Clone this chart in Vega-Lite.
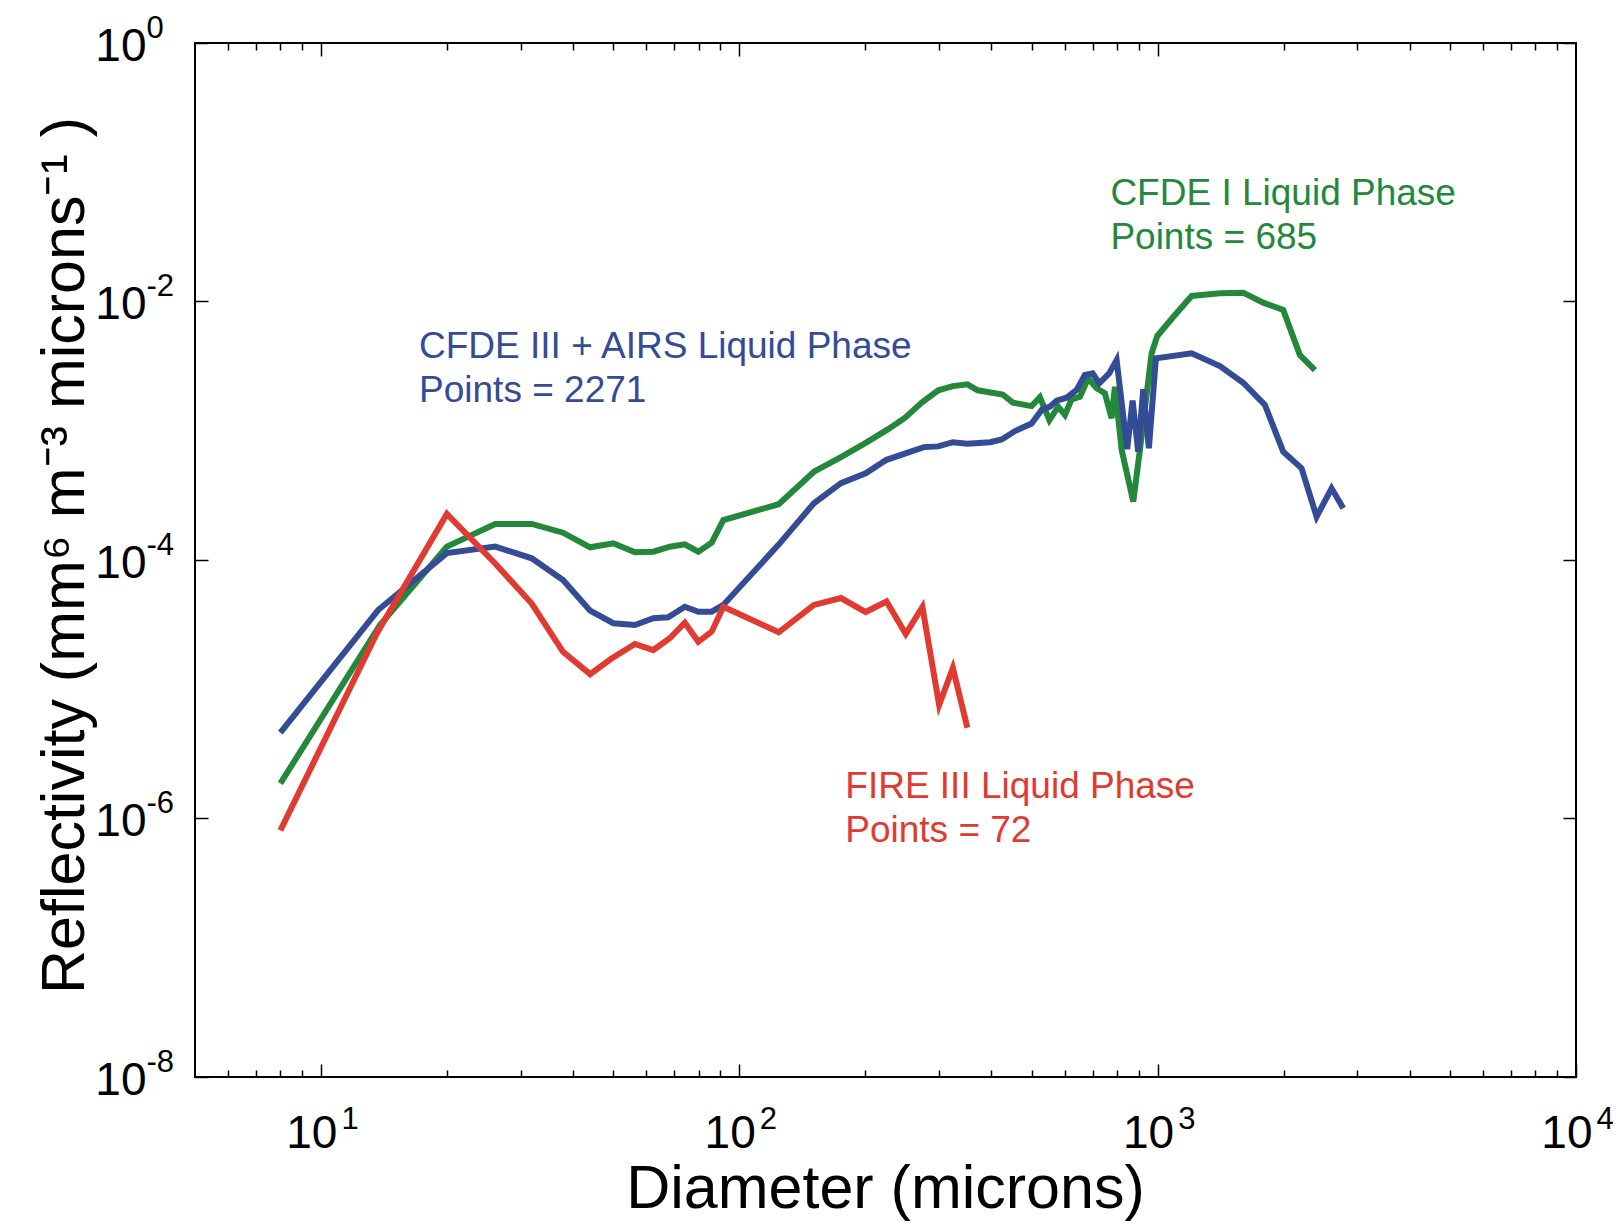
{
  "$schema": "https://vega.github.io/schema/vega-lite/v6.json",
  "width": 1381,
  "height": 1034,
  "autosize": {"type": "none"},
  "padding": {"left": 195, "top": 43, "right": 42, "bottom": 144},
  "background": "white",
  "config": {
    "view": {"stroke": "black", "strokeWidth": 2},
    "font": "Liberation Sans",
    "axis": {"domain": false, "grid": false, "tickColor": "black", "tickWidth": 1.5, "labelColor": "black", "titleColor": "black", "labelFont": "Liberation Sans", "titleFont": "Liberation Sans", "titleFontWeight": "normal", "labelFlush": false, "labelOverlap": false, "labelBound": false}
  },
  "datasets": {
    "curves": [
      {"s": "CFDE I", "d": 8.0, "z": 1.87e-6},
      {"s": "CFDE I", "d": 13.84, "z": 3.14e-5},
      {"s": "CFDE I", "d": 20.0, "z": 1.27e-4},
      {"s": "CFDE I", "d": 26.1, "z": 1.90e-4},
      {"s": "CFDE I", "d": 31.9, "z": 1.90e-4},
      {"s": "CFDE I", "d": 37.9, "z": 1.626e-4},
      {"s": "CFDE I", "d": 44.0, "z": 1.254e-4},
      {"s": "CFDE I", "d": 50.0, "z": 1.346e-4},
      {"s": "CFDE I", "d": 56.3, "z": 1.147e-4},
      {"s": "CFDE I", "d": 62.3, "z": 1.159e-4},
      {"s": "CFDE I", "d": 68.2, "z": 1.268e-4},
      {"s": "CFDE I", "d": 74.1, "z": 1.323e-4},
      {"s": "CFDE I", "d": 79.8, "z": 1.159e-4},
      {"s": "CFDE I", "d": 85.9, "z": 1.361e-4},
      {"s": "CFDE I", "d": 91.6, "z": 2.039e-4},
      {"s": "CFDE I", "d": 124.2, "z": 2.70e-4},
      {"s": "CFDE I", "d": 150.8, "z": 4.82e-4},
      {"s": "CFDE I", "d": 175.0, "z": 6.26e-4},
      {"s": "CFDE I", "d": 200.5, "z": 8.05e-4},
      {"s": "CFDE I", "d": 227.4, "z": 1.033e-3},
      {"s": "CFDE I", "d": 249.1, "z": 1.262e-3},
      {"s": "CFDE I", "d": 273.0, "z": 1.651e-3},
      {"s": "CFDE I", "d": 299.0, "z": 2.056e-3},
      {"s": "CFDE I", "d": 324.0, "z": 2.215e-3},
      {"s": "CFDE I", "d": 350.9, "z": 2.288e-3},
      {"s": "CFDE I", "d": 371.5, "z": 2.056e-3},
      {"s": "CFDE I", "d": 426.1, "z": 1.908e-3},
      {"s": "CFDE I", "d": 450.8, "z": 1.651e-3},
      {"s": "CFDE I", "d": 499.7, "z": 1.551e-3},
      {"s": "CFDE I", "d": 523.1, "z": 1.815e-3},
      {"s": "CFDE I", "d": 551.2, "z": 1.209e-3},
      {"s": "CFDE I", "d": 578.5, "z": 1.535e-3},
      {"s": "CFDE I", "d": 600.3, "z": 1.323e-3},
      {"s": "CFDE I", "d": 622.7, "z": 1.751e-3},
      {"s": "CFDE I", "d": 652.0, "z": 1.834e-3},
      {"s": "CFDE I", "d": 682.3, "z": 2.545e-3},
      {"s": "CFDE I", "d": 714.6, "z": 2.13e-3},
      {"s": "CFDE I", "d": 747.9, "z": 1.949e-3},
      {"s": "CFDE I", "d": 776.1, "z": 1.248e-3},
      {"s": "CFDE I", "d": 790.3, "z": 2.192e-3},
      {"s": "CFDE I", "d": 820.3, "z": 7.10e-4},
      {"s": "CFDE I", "d": 874.4, "z": 2.825e-4},
      {"s": "CFDE I", "d": 907.1, "z": 7.10e-4},
      {"s": "CFDE I", "d": 967.3, "z": 3.974e-3},
      {"s": "CFDE I", "d": 997.7, "z": 5.41e-3},
      {"s": "CFDE I", "d": 1099.8, "z": 7.86e-3},
      {"s": "CFDE I", "d": 1206, "z": 0.01103},
      {"s": "CFDE I", "d": 1408.6, "z": 0.01157},
      {"s": "CFDE I", "d": 1601.5, "z": 0.0117},
      {"s": "CFDE I", "d": 1787.7, "z": 9.79e-3},
      {"s": "CFDE I", "d": 1996, "z": 8.6e-3},
      {"s": "CFDE I", "d": 2187.8, "z": 3.855e-3},
      {"s": "CFDE I", "d": 2376.3, "z": 2.951e-3},

      {"s": "CFDE III", "d": 8.0, "z": 4.61e-6},
      {"s": "CFDE III", "d": 13.7, "z": 4.1e-5},
      {"s": "CFDE III", "d": 20.0, "z": 1.13e-4},
      {"s": "CFDE III", "d": 26.1, "z": 1.27e-4},
      {"s": "CFDE III", "d": 31.9, "z": 1.03e-4},
      {"s": "CFDE III", "d": 37.9, "z": 7.0e-5},
      {"s": "CFDE III", "d": 44.0, "z": 4.05e-5},
      {"s": "CFDE III", "d": 50.0, "z": 3.24e-5},
      {"s": "CFDE III", "d": 56.3, "z": 3.14e-5},
      {"s": "CFDE III", "d": 62.3, "z": 3.54e-5},
      {"s": "CFDE III", "d": 67.6, "z": 3.6e-5},
      {"s": "CFDE III", "d": 74.1, "z": 4.35e-5},
      {"s": "CFDE III", "d": 79.8, "z": 3.98e-5},
      {"s": "CFDE III", "d": 85.9, "z": 3.98e-5},
      {"s": "CFDE III", "d": 91.6, "z": 4.49e-5},
      {"s": "CFDE III", "d": 124.2, "z": 1.316e-4},
      {"s": "CFDE III", "d": 150.8, "z": 2.75e-4},
      {"s": "CFDE III", "d": 175.0, "z": 3.93e-4},
      {"s": "CFDE III", "d": 200.5, "z": 4.68e-4},
      {"s": "CFDE III", "d": 224.9, "z": 5.96e-4},
      {"s": "CFDE III", "d": 276.1, "z": 7.47e-4},
      {"s": "CFDE III", "d": 299.0, "z": 7.57e-4},
      {"s": "CFDE III", "d": 324.0, "z": 8.15e-4},
      {"s": "CFDE III", "d": 350.9, "z": 7.95e-4},
      {"s": "CFDE III", "d": 397.8, "z": 8.15e-4},
      {"s": "CFDE III", "d": 424.0, "z": 8.57e-4},
      {"s": "CFDE III", "d": 456.0, "z": 9.95e-4},
      {"s": "CFDE III", "d": 499.7, "z": 1.136e-3},
      {"s": "CFDE III", "d": 529.0, "z": 1.458e-3},
      {"s": "CFDE III", "d": 552.7, "z": 1.535e-3},
      {"s": "CFDE III", "d": 573.5, "z": 1.708e-3},
      {"s": "CFDE III", "d": 605.9, "z": 1.802e-3},
      {"s": "CFDE III", "d": 640.2, "z": 2.067e-3},
      {"s": "CFDE III", "d": 670.0, "z": 2.70e-3},
      {"s": "CFDE III", "d": 699.2, "z": 2.78e-3},
      {"s": "CFDE III", "d": 725.0, "z": 2.33e-3},
      {"s": "CFDE III", "d": 765.8, "z": 2.78e-3},
      {"s": "CFDE III", "d": 797.9, "z": 3.527e-3},
      {"s": "CFDE III", "d": 845.7, "z": 7.19e-4},
      {"s": "CFDE III", "d": 871.2, "z": 1.708e-3},
      {"s": "CFDE III", "d": 898.4, "z": 6.89e-4},
      {"s": "CFDE III", "d": 923.8, "z": 2.093e-3},
      {"s": "CFDE III", "d": 953.0, "z": 7.31e-4},
      {"s": "CFDE III", "d": 990.4, "z": 3.635e-3},
      {"s": "CFDE III", "d": 1206, "z": 3.974e-3},
      {"s": "CFDE III", "d": 1408.6, "z": 3.17e-3},
      {"s": "CFDE III", "d": 1601.5, "z": 2.353e-3},
      {"s": "CFDE III", "d": 1804.6, "z": 1.582e-3},
      {"s": "CFDE III", "d": 1996, "z": 6.89e-4},
      {"s": "CFDE III", "d": 2208.6, "z": 5.12e-4},
      {"s": "CFDE III", "d": 2398.5, "z": 2.163e-4},
      {"s": "CFDE III", "d": 2604.7, "z": 3.586e-4},
      {"s": "CFDE III", "d": 2777.4, "z": 2.512e-4},

      {"s": "FIRE III", "d": 8.0, "z": 8.1e-7},
      {"s": "FIRE III", "d": 13.6, "z": 2.7e-5},
      {"s": "FIRE III", "d": 20.0, "z": 2.27e-4},
      {"s": "FIRE III", "d": 26.1, "z": 9.4e-5},
      {"s": "FIRE III", "d": 31.9, "z": 4.6e-5},
      {"s": "FIRE III", "d": 37.9, "z": 1.95e-5},
      {"s": "FIRE III", "d": 44.0, "z": 1.31e-5},
      {"s": "FIRE III", "d": 49.5, "z": 1.73e-5},
      {"s": "FIRE III", "d": 56.3, "z": 2.24e-5},
      {"s": "FIRE III", "d": 62.3, "z": 2.01e-5},
      {"s": "FIRE III", "d": 68.2, "z": 2.48e-5},
      {"s": "FIRE III", "d": 74.1, "z": 3.27e-5},
      {"s": "FIRE III", "d": 79.8, "z": 2.33e-5},
      {"s": "FIRE III", "d": 85.9, "z": 2.79e-5},
      {"s": "FIRE III", "d": 91.6, "z": 4.35e-5},
      {"s": "FIRE III", "d": 124.2, "z": 2.76e-5},
      {"s": "FIRE III", "d": 150.8, "z": 4.49e-5},
      {"s": "FIRE III", "d": 175.0, "z": 5.08e-5},
      {"s": "FIRE III", "d": 200.5, "z": 3.96e-5},
      {"s": "FIRE III", "d": 224.9, "z": 4.77e-5},
      {"s": "FIRE III", "d": 250.0, "z": 2.68e-5},
      {"s": "FIRE III", "d": 274.0, "z": 4.33e-5},
      {"s": "FIRE III", "d": 300.4, "z": 7.55e-6},
      {"s": "FIRE III", "d": 324.0, "z": 1.46e-5},
      {"s": "FIRE III", "d": 350.9, "z": 5.04e-6}
    ]
  },
  "resolve": {"axis": {"x": "independent", "y": "independent"}},
  "layer": [
    {
      "data": {"name": "curves"},
      "transform": [{"filter": "datum.s === 'CFDE I'"}],
      "mark": {"type": "line", "color": "#23883a", "strokeWidth": 6, "strokeJoin": "miter", "clip": true},
      "encoding": {
        "x": {"field": "d", "type": "quantitative", "scale": {"type": "log", "domain": [5, 10000], "nice": false},
          "axis": {"orient": "bottom", "values": [10, 100, 1000, 10000], "tickSize": -13, "labelExpr": "'10'", "labelFontSize": 46, "labelAlign": "right", "labelBaseline": "alphabetic", "labelOffset": 16, "labelPadding": 83,
            "title": "Diameter (microns)", "titleFontSize": 61, "titleBaseline": "alphabetic", "titleAlign": "center", "titleX": 690, "titleY": 130}},
        "y": {"field": "z", "type": "quantitative", "scale": {"type": "log", "domain": [1e-8, 1], "nice": false},
          "axis": {"orient": "left", "values": [1e-8, 1e-6, 1e-4, 1e-2, 1], "tickSize": -13, "labelExpr": "'10'", "labelFontSize": 46, "labelAlign": "right", "labelBaseline": "alphabetic", "labelOffset": 17, "labelPadding": 62,
            "title": "Reflectivity (mm⁶ m⁻³ microns⁻¹ )", "titleFontSize": 61, "titleBaseline": "alphabetic", "titleAlign": "center", "titleAngle": -90, "titleX": -112, "titleY": 512}}
      }
    },
    {
      "data": {"name": "curves"},
      "transform": [{"filter": "datum.s === 'CFDE III'"}],
      "mark": {"type": "line", "color": "#344b95", "strokeWidth": 6, "strokeJoin": "miter", "clip": true},
      "encoding": {
        "x": {"field": "d", "type": "quantitative", "scale": {"type": "log", "domain": [5, 10000], "nice": false},
          "axis": {"orient": "bottom", "values": [6, 7, 8, 9, 20, 30, 40, 50, 60, 70, 80, 90, 200, 300, 400, 500, 600, 700, 800, 900, 2000, 3000, 4000, 5000, 6000, 7000, 8000, 9000], "tickSize": -7, "labels": false, "title": null}},
        "y": {"field": "z", "type": "quantitative", "scale": {"type": "log", "domain": [1e-8, 1], "nice": false},
          "axis": {"orient": "right", "values": [1e-8, 1e-6, 1e-4, 1e-2, 1], "tickSize": -13, "labels": false, "title": null}}
      }
    },
    {
      "data": {"name": "curves"},
      "transform": [{"filter": "datum.s === 'FIRE III'"}],
      "mark": {"type": "line", "color": "#e03a31", "strokeWidth": 6, "strokeJoin": "miter", "clip": true},
      "encoding": {
        "x": {"field": "d", "type": "quantitative", "scale": {"type": "log", "domain": [5, 10000], "nice": false},
          "axis": {"orient": "top", "values": [10, 100, 1000], "tickSize": -13, "labels": false, "title": null}},
        "y": {"field": "z", "type": "quantitative", "scale": {"type": "log", "domain": [1e-8, 1], "nice": false},
          "axis": {"orient": "left", "values": [1e-8, 1e-6, 1e-4, 1e-2, 1], "ticks": false, "labelExpr": "'' + round(log(datum.value) / LN10)", "labelFontSize": 31, "labelAlign": "left", "labelBaseline": "alphabetic", "labelOffset": -6, "labelPadding": 49, "title": null}}
      }
    },
    {
      "data": {"values": [{}]},
      "mark": {"type": "text", "align": "left", "baseline": "alphabetic", "fontSize": 37, "font": "Liberation Sans", "color": "#23883a", "lineHeight": 44, "text": ["CFDE I Liquid Phase", "Points = 685"]},
      "encoding": {
        "x": {"datum": 771, "type": "quantitative", "scale": {"type": "log", "domain": [5, 10000], "nice": false},
          "axis": {"orient": "top", "values": [6, 7, 8, 9, 20, 30, 40, 50, 60, 70, 80, 90, 200, 300, 400, 500, 600, 700, 800, 900, 2000, 3000, 4000, 5000, 6000, 7000, 8000, 9000], "tickSize": -7, "labels": false, "title": null}},
        "y": {"datum": 0.0558, "type": "quantitative", "scale": {"type": "log", "domain": [1e-8, 1], "nice": false}, "axis": null}
      }
    },
    {
      "data": {"values": [{}]},
      "mark": {"type": "text", "align": "left", "baseline": "alphabetic", "fontSize": 37, "font": "Liberation Sans", "color": "#344b95", "lineHeight": 44, "text": ["CFDE III + AIRS Liquid Phase", "Points = 2271"]},
      "encoding": {
        "x": {"datum": 17.16, "type": "quantitative", "scale": {"type": "log", "domain": [5, 10000], "nice": false},
          "axis": {"orient": "bottom", "values": [10, 100, 1000, 10000], "ticks": false, "labelExpr": "'' + round(log(datum.value) / LN10)", "labelFontSize": 31, "labelAlign": "left", "labelBaseline": "alphabetic", "labelOffset": 20, "labelPadding": 51, "title": null}},
        "y": {"datum": 0.00366, "type": "quantitative", "scale": {"type": "log", "domain": [1e-8, 1], "nice": false}, "axis": null}
      }
    },
    {
      "data": {"values": [{}]},
      "mark": {"type": "text", "align": "left", "baseline": "alphabetic", "fontSize": 37, "font": "Liberation Sans", "color": "#e03a31", "lineHeight": 44, "text": ["FIRE III Liquid Phase", "Points = 72"]},
      "encoding": {
        "x": {"datum": 179.2, "type": "quantitative", "scale": {"type": "log", "domain": [5, 10000], "nice": false}, "axis": null},
        "y": {"datum": 1.45e-6, "type": "quantitative", "scale": {"type": "log", "domain": [1e-8, 1], "nice": false}, "axis": null}
      }
    }
  ]
}
